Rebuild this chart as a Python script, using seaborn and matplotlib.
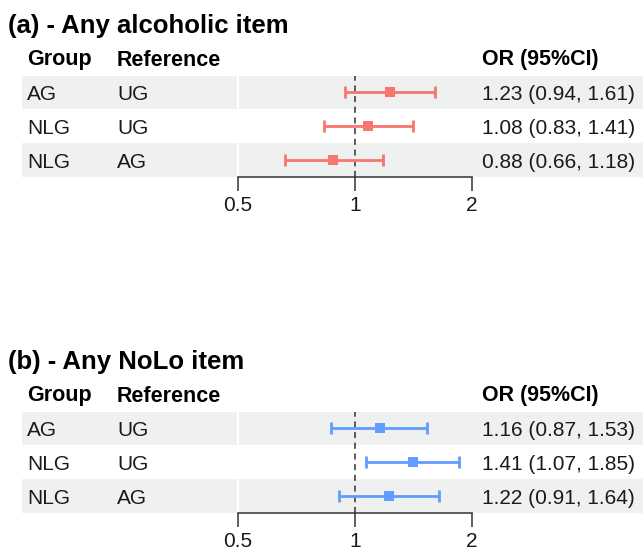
import numpy as np
import pandas as pd
import matplotlib
matplotlib.use("Agg")
import matplotlib.pyplot as plt
import seaborn as sns

# ---- data ----
groups = ["AG", "NLG", "NLG"]
references = ["UG", "UG", "AG"]

alc_or = [1.23, 1.08, 0.88]
alc_lo = [0.94, 0.83, 0.66]
alc_hi = [1.61, 1.41, 1.18]

nolo_or = [1.16, 1.41, 1.22]
nolo_lo = [0.87, 1.07, 0.91]
nolo_hi = [1.53, 1.85, 1.64]

panel_titles = ["(a) - Any alcoholic item", "(b) - Any NoLo item"]
tick_values = [0.5, 1, 2]
tick_labels = ["0.5", "1", "2"]

# ---- style ----
sns.set_style("white")
plt.rcParams["font.family"] = ["Liberation Sans", "DejaVu Sans"]

W, H = 643, 553
fig = plt.figure(figsize=(W / 100, H / 100), dpi=100)

band_color = "#EEF1EF"
text_color = "#1A1A1A"
colors = ["#F8766D", "#619CFF"]

def fx(px):
    return px / W

def fy(py):
    return 1 - py / H

# x mapping: 1 at px 355, one doubling = 117 px
left_px, right_px = 22, 643
x_min = 2 ** ((left_px - 355) / 117)
x_max = 2 ** ((right_px - 355) / 117)

panels = [
    (alc_or, alc_lo, alc_hi),
    (nolo_or, nolo_lo, nolo_hi),
]

for p, (orv, lo, hi) in enumerate(panels):
    off = 336 * p
    top_px = 75.5 + off
    bot_px = 177 + off
    ax = fig.add_axes([fx(left_px), fy(bot_px), fx(right_px - left_px),
                       (bot_px - top_px) / H])
    ax.set_facecolor("none")

    df = pd.DataFrame({"row": np.arange(len(groups)), "OR": orv,
                       "lo": lo, "hi": hi})

    # bands
    for i in range(len(groups)):
        if i % 2 == 0:
            ax.axhspan(i - 0.5, i + 0.5, color=band_color, lw=0, zorder=0)
    ax.axvline(0.5, color="white", lw=1.6, zorder=0.5)
    ax.axvline(1, color="#333333", lw=1.1, ls=(0, (4, 3)), zorder=1)

    # CIs
    ax.errorbar(df["OR"], df["row"],
                xerr=[df["OR"] - df["lo"], df["hi"] - df["OR"]],
                fmt="none", ecolor=colors[p], elinewidth=2.0,
                capsize=4, capthick=2.0, zorder=2)
    sns.scatterplot(data=df, x="OR", y="row", marker="s", s=45,
                    color=colors[p], edgecolor=colors[p], linewidth=0,
                    ax=ax, zorder=3, legend=False)

    ax.set_xscale("log")
    ax.set_xlim(x_min, x_max)
    ax.set_ylim(len(groups) - 0.5, -0.5)
    ax.set_xticks(tick_values)
    ax.set_xticklabels(tick_labels)
    ax.xaxis.set_minor_locator(matplotlib.ticker.NullLocator())
    ax.set_yticks([])
    ax.set_xlabel("")
    ax.set_ylabel("")
    for s in ["left", "right", "top"]:
        ax.spines[s].set_visible(False)
    ax.spines["bottom"].set_bounds(0.5, 2)
    ax.spines["bottom"].set_color("#333333")
    ax.spines["bottom"].set_linewidth(1.1)
    ax.tick_params(axis="x", direction="out", length=10, width=1.1,
                   color="#333333", labelsize=15, labelcolor=text_color,
                   pad=4, bottom=True)

    # text
    fig.text(fx(8), fy(33 + off), panel_titles[p], fontsize=18.5,
             fontweight="bold", color="black", va="baseline")
    hdr_y = fy(65.5 + off)
    fig.text(fx(27), hdr_y, "Group", fontsize=15.5, fontweight="bold",
             color="black", va="baseline")
    fig.text(fx(117), hdr_y, "Reference", fontsize=15.5, fontweight="bold",
             color="black", va="baseline")
    fig.text(fx(482), hdr_y, "OR (95%CI)", fontsize=15.5, fontweight="bold",
             color="black", va="baseline")
    row_h = (bot_px - top_px) / len(groups)
    for i in range(len(groups)):
        yb = fy(top_px + row_h * (i + 0.5) + 8)
        fig.text(fx(27), yb, groups[i], fontsize=15, color=text_color,
                 va="baseline")
        fig.text(fx(117), yb, references[i], fontsize=15, color=text_color,
                 va="baseline")
        fig.text(fx(482), yb, f"{orv[i]:.2f} ({lo[i]:.2f}, {hi[i]:.2f})",
                 fontsize=15, color=text_color, va="baseline")

fig.savefig("out.png", dpi=100)
